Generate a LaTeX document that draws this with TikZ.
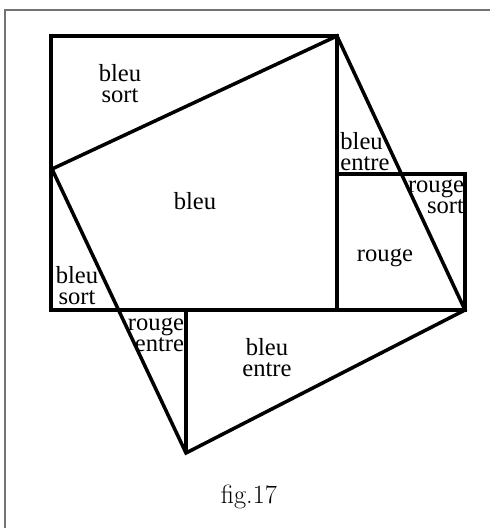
\documentclass[tikz,border=0pt]{standalone}
\usepackage{fontspec}
\newfontfamily\labelfont{Liberation Serif}
\tikzset{
    trait/.style={line width=2pt, line join=miter},
    etiquette/.style={font=\labelfont\fontsize{14}{12}\selectfont, align=center, inner sep=0pt},
}
\begin{document}
\begin{tikzpicture}[x=0.02cm, y=-0.02cm]
        \useasboundingbox (0,0) rectangle (490,528);
        % cadre
        \draw [color=black!55, line width=1pt] (5,528) -- (5,10) -- (490,10);
        % sommets
        \coordinate (A) at (51,36);
        \coordinate (B) at (337,36);
        \coordinate (C) at (51,310);
        \coordinate (D) at (337,310);
        \coordinate (E) at (337,174);
        \coordinate (F) at (465,174);
        \coordinate (G) at (465,310);
        \coordinate (H) at (52,169);
        \coordinate (K) at (186,453);
        \coordinate (L) at (186,310);
        % grand carre
        \draw [trait] (A) rectangle (D);
        % petit carre
        \draw [trait] (E) -- (F) -- (G) -- (D);
        % carre incline
        \draw [trait] (B) -- (H) -- (K) -- (G) -- cycle;
        \draw [trait] (L) -- (K);
        % textes
        \node[etiquette] (t1) at (120,84) {bleu\\sort};
        \node[etiquette] (t2) at (195,201) {bleu};
        \node[etiquette] (t3) at (77,286) {bleu\\sort};
        \node[etiquette, align=left] (t4) at (365,152) {bleu\\entre};
        \node[etiquette, align=right] (t5) at (436,197) {rouge\\sort};
        \node[etiquette] (t6) at (385,258) {rouge};
        \node[etiquette, align=right] (t7) at (156,335) {rouge\\entre};
        \node[etiquette] (t8) at (267,358) {bleu\\entre};
        \node[font=\fontsize{15}{17}\selectfont] (fig) at (249,497) {fig.17};
    \end{tikzpicture}
\end{document}
